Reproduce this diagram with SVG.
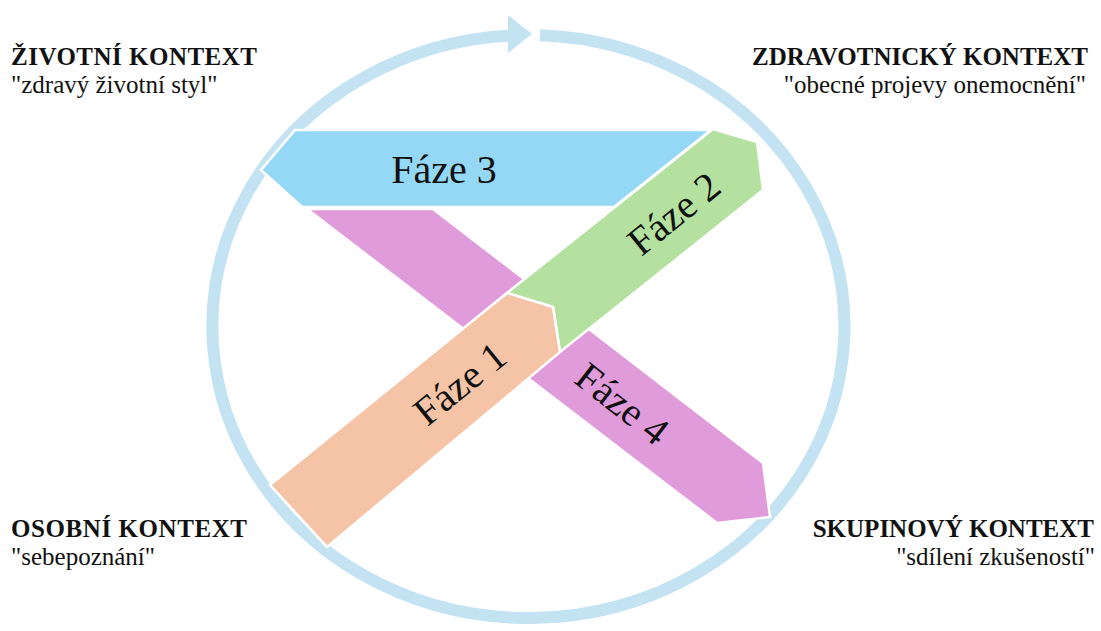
<svg xmlns="http://www.w3.org/2000/svg" width="1101" height="631" viewBox="0 0 1101 631">
  <style>
    .ring { fill: none; stroke: #c3e3f3; stroke-width: 12; }
    .head { fill: #c3e3f3; }
    .band { stroke: #ffffff; stroke-width: 2.5; stroke-linejoin: miter; }
    .phase { font-family: "Liberation Serif", "Times New Roman", serif; font-size: 40px; fill: #111; text-anchor: middle; }
    .ctx { font-family: "Liberation Serif", "Times New Roman", serif; font-size: 25px; fill: #111; }
    .ctx .t { font-weight: bold; }
    .r { text-anchor: end; }
  </style>
  <rect width="1101" height="631" fill="#ffffff"/>

  <g id="connectors">
    <path class="ring" d="M540,35.2 A316,291.5 0 1 1 510,35.5"/>
    <polygon class="head" points="508,15 532,34 508,53"/>
  </g>

  <g id="faze4">
    <polygon class="band" fill="#e09bdb" points="307,209 433,209 763,463 770,517 717,523"/>
    <text class="phase" transform="translate(622,404) rotate(38)" y="13">Fáze 4</text>
  </g>

  <g id="faze3">
    <polygon class="band" fill="#95d8f5" points="261,170 295,130 711,130 614,207 302,207"/>
    <text class="phase" x="444" y="183">Fáze 3</text>
  </g>

  <g id="faze2">
    <polygon class="band" fill="#b4e0a0" points="713,129 757,142 763,190 560,352 553,307 507,293"/>
    <text class="phase" transform="translate(674,214) rotate(-39)" y="13">Fáze 2</text>
  </g>

  <g id="faze1">
    <polygon class="band" fill="#f5c4a6" points="270,485 507,293 553,307 560,352 327,547"/>
    <text class="phase" transform="translate(460,384) rotate(-39)" y="13">Fáze 1</text>
  </g>

  <g id="ctx-zivotni" class="ctx">
    <text class="t" x="11" y="65" textLength="246" lengthAdjust="spacing">ŽIVOTNÍ KONTEXT</text>
    <text x="11" y="93">"zdravý životní styl"</text>
  </g>

  <g id="ctx-zdravotnicky" class="ctx">
    <text class="t r" x="1088" y="65">ZDRAVOTNICKÝ KONTEXT</text>
    <text class="r" x="1086" y="93">"obecné projevy onemocnění"</text>
  </g>

  <g id="ctx-osobni" class="ctx">
    <text class="t" x="11" y="537" textLength="236" lengthAdjust="spacing">OSOBNÍ KONTEXT</text>
    <text x="11" y="565">"sebepoznání"</text>
  </g>

  <g id="ctx-skupinovy" class="ctx">
    <text class="t r" x="1094" y="537">SKUPINOVÝ KONTEXT</text>
    <text class="r" x="1095" y="565">"sdílení zkušeností"</text>
  </g>
</svg>
